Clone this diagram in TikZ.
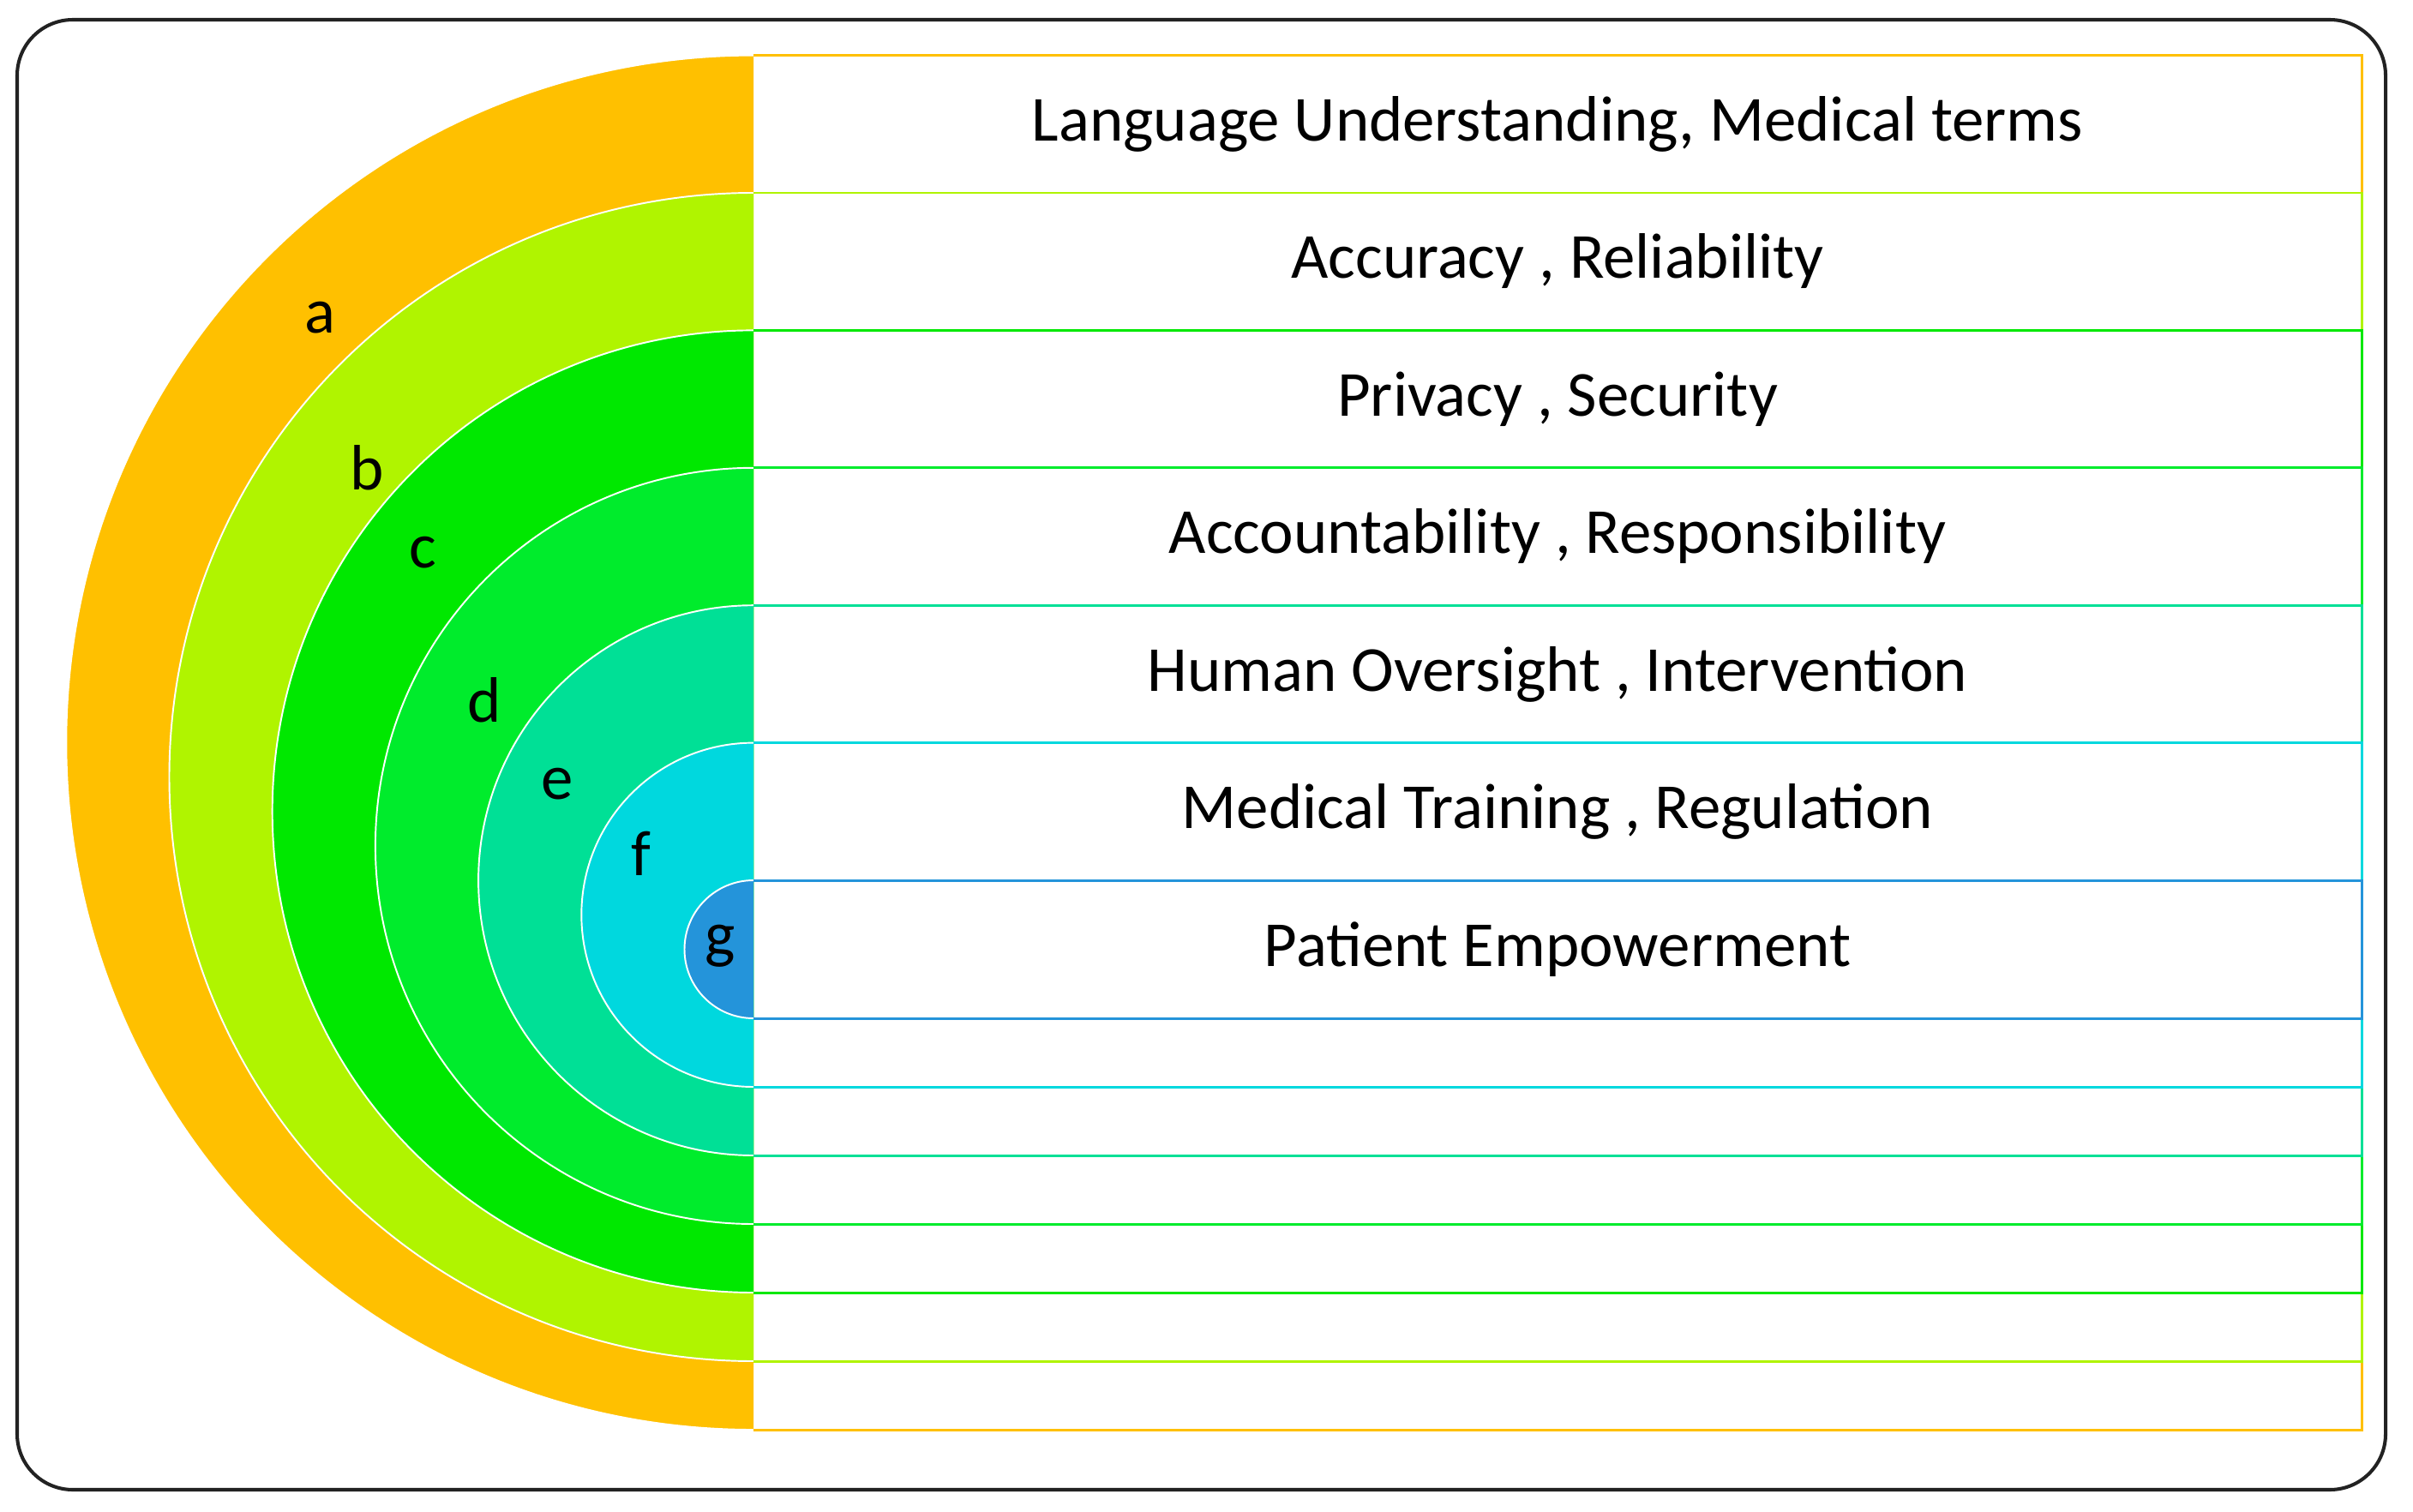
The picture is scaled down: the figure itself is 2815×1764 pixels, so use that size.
\documentclass[tikz,border=0pt]{standalone}
\usepackage{fontspec}
\setmainfont{Carlito}
\definecolor{colA}{RGB}{255,192,0}
\definecolor{colB}{RGB}{176,244,0}
\definecolor{colC}{RGB}{0,232,0}
\definecolor{colD}{RGB}{0,236,44}
\definecolor{colE}{RGB}{0,224,150}
\definecolor{colF}{RGB}{0,216,222}
\definecolor{colG}{RGB}{36,148,218}
\definecolor{frame}{RGB}{34,34,34}
\begin{document}
\begin{tikzpicture}[x=0.01cm,y=-0.01cm,
  rowline/.style={line width=0.85pt},
  arcline/.style={draw=white,line width=0.55pt},
  rowtext/.style={anchor=base,inner sep=0pt,font=\fontsize{21.3}{26}\selectfont},
  lbl/.style={anchor=base,inner sep=0pt,font=\fontsize{21.3}{26}\selectfont}]
\useasboundingbox (0,0) rectangle (2815,1764);
\draw[frame,line width=1.15pt,rounded corners=0.65cm] (20,23) rectangle (2783,1738);
% semicircles
\foreach \c/\t/\b in {colA/64.6/1668,colB/225/1588,colC/385.4/1508,colD/545.8/1428,colE/706.2/1348,colF/866.6/1268,colG/1027/1188}{
  \pgfmathsetmacro\rr{(\b-\t)/2}
  \fill[\c] (879,\b) arc[start angle=90,end angle=270,radius=\rr] -- cycle;
  \draw[arcline] (879,\b) arc[start angle=90,end angle=270,radius=\rr];
}
% row frames
\foreach \c/\t/\b in {colA/64.6/1668,colB/225/1588,colC/385.4/1508,colD/545.8/1428,colE/706.2/1348,colF/866.6/1268,colG/1027/1188}{
  \draw[\c,rowline] (879,\t) -- (2755,\t) -- (2755,\b) -- (879,\b);
}
% row texts
\node[rowtext] (tA) at (1817,164.6) {Language Understanding, Medical terms};
\node[rowtext] (tB) at (1817,325) {Accuracy , Reliability};
\node[rowtext] (tC) at (1817,485.4) {Privacy , Security};
\node[rowtext] (tD) at (1817,645.8) {Accountability , Responsibility};
\node[rowtext] (tE) at (1817,806.2) {Human Oversight , Intervention};
\node[rowtext] (tF) at (1817,966.6) {Medical Training , Regulation};
\node[rowtext] (tG) at (1817,1127) {Patient Empowerment};
% labels
\node[lbl] (la) at (373,389) {a};
\node[lbl] (lb) at (428,571) {b};
\node[lbl] (lc) at (493,662) {c};
\node[lbl] (ld) at (565,842) {d};
\node[lbl] (le) at (650,932) {e};
\node[lbl] (lf) at (748,1021) {f};
\node[lbl] (lg) at (840,1115) {g};
\end{tikzpicture}
\end{document}
